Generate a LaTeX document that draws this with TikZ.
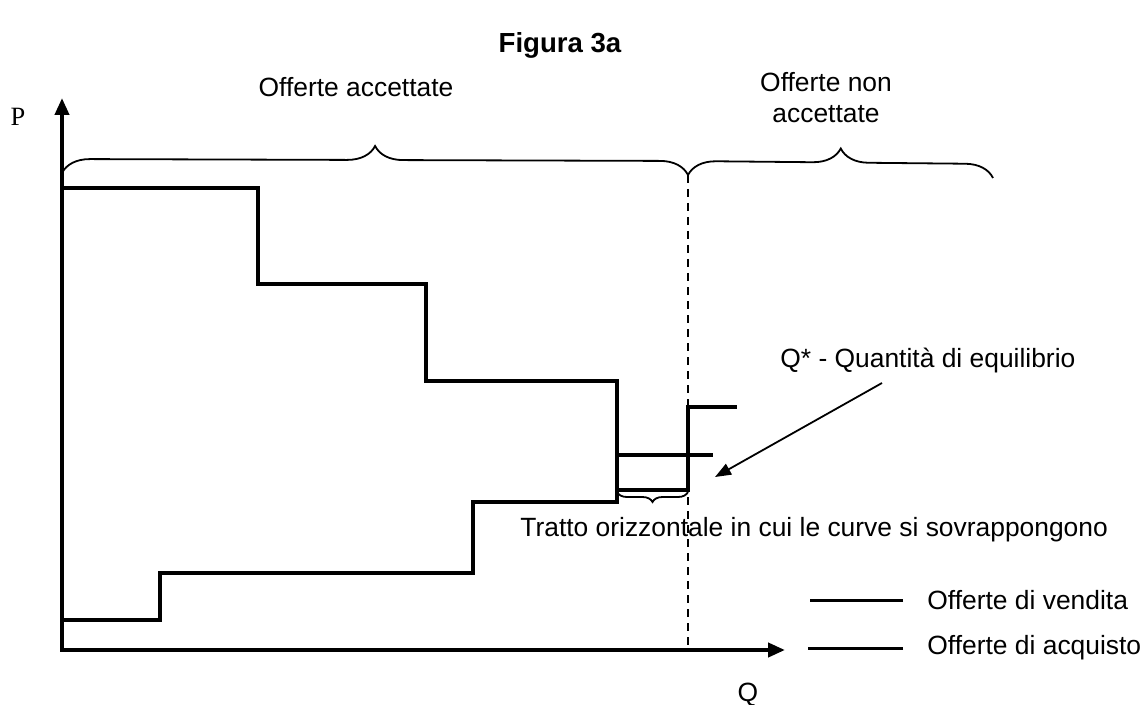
\documentclass[tikz,border=0pt]{standalone}
\usepackage{fontspec}
\setmainfont{Liberation Sans}
\newfontfamily\pfont{Liberation Serif}
\usetikzlibrary{arrows.meta,decorations.pathreplacing}

\begin{document}
\begin{tikzpicture}[x=0.5pt,y=-0.5pt,
  curve/.style={line width=2pt},
  axis/.style={line width=2pt,{Triangle[length=8.5pt,width=7pt]}-{Triangle[length=8.5pt,width=7pt]}},
  bracebox/.style={decorate,decoration={brace,amplitude=14pt},line width=0.9pt},
  legline/.style={line width=1.5pt},
  lbl/.style={font=\fontsize{13.2}{15.5}\selectfont,inner sep=0pt}]
\useasboundingbox (0,0) rectangle (1143,705);
\node[font=\bfseries\fontsize{13.8}{17}\selectfont] (title) at (560,45) {Figura 3a};
% axes
\coordinate (origin) at (62,650);
\draw[axis] (62,98) -- (origin) -- (785,650);
\node[lbl,font=\pfont\fontsize{13.2}{15.5}\selectfont] (plabel) at (18,117) {P};
\node[lbl] (qaxis) at (748,695) {Q};
% curve di domanda e di offerta
\draw[curve] (62,188) -| (258,284) -| (426,381) -| (617,490) -| (688,407) -- (737,407);
\draw[curve] (62,620) -| (160,573) -| (473,502) -| (617,455) -- (713,455);
% quantita di equilibrio
\coordinate (qeq) at (688,175);
\draw[line width=0.6pt,dash pattern=on 4pt off 3pt] (qeq) -- (688,650);
\draw[bracebox] (62,173) -- (qeq);
\draw[bracebox] (qeq) -- (993,178);
\draw[decorate,decoration={brace,mirror,amplitude=5pt},line width=0.9pt] (617,492) -- (688,492);
\node[lbl] (acc) at (356,87) {Offerte accettate};
\node[lbl,align=center] (nonacc) at (826,98) {Offerte non\\accettate};
\node[lbl,anchor=west] (tratto) at (520,530) {Tratto orizzontale in cui le curve si sovrappongono};
\node[lbl,anchor=west] (qlabel) at (780,361) {Q* - Quantità di equilibrio};
\coordinate (qstart) at (882,383);
\coordinate (qtip) at (715,477);
\draw[line width=0.9pt,-{Triangle[length=8pt,width=6pt]}] (qstart) -- (qtip);
% legenda
\node[lbl,anchor=west] (legv) at (927,600) {Offerte di vendita};
\node[lbl,anchor=west] (lega) at (927,648) {Offerte di acquisto};
\draw[legline] ([xshift=-12pt]legv.west) -- ++(-46.5pt,0);
\draw[legline] ([xshift=-12pt]lega.west) -- ++(-47.5pt,0);
\end{tikzpicture}
\end{document}
